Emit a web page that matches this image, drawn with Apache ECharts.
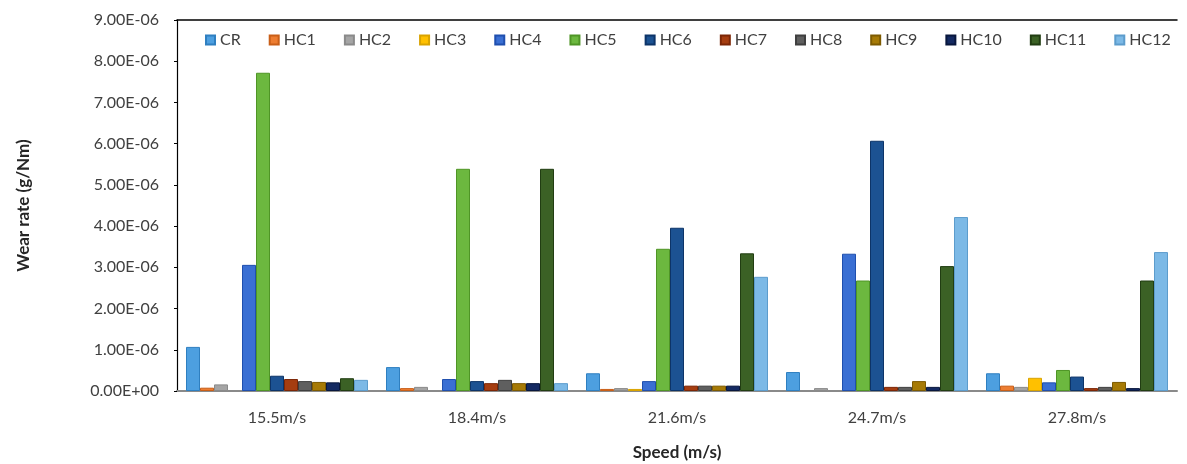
<!DOCTYPE html>
<html>
<head>
<meta charset="utf-8">
<script src="https://cdn.jsdelivr.net/npm/echarts@6/dist/echarts.min.js"></script>
<style>
  html, body { margin: 0; padding: 0; background: #fff; }
  #chart { width: 1187px; height: 464px; }
</style>
</head>
<body>
<div id="chart"></div>
<script>
// Sliding speeds on the category axis
const speeds = ['15.5m/s', '18.4m/s', '21.6m/s', '24.7m/s', '27.8m/s'];

// Wear rate (g/Nm) of each material at each speed
const CR   = [1.07e-6, 0.58e-6, 0.43e-6, 0.46e-6, 0.43e-6];
const HC1  = [0.08e-6, 0.07e-6, 0.05e-6, 0,       0.13e-6];
const HC2  = [0.16e-6, 0.10e-6, 0.07e-6, 0.07e-6, 0.10e-6];
const HC3  = [0,       0,       0.05e-6, 0,       0.32e-6];
const HC4  = [3.06e-6, 0.29e-6, 0.24e-6, 3.33e-6, 0.21e-6];
const HC5  = [7.72e-6, 5.39e-6, 3.45e-6, 2.68e-6, 0.51e-6];
const HC6  = [0.37e-6, 0.24e-6, 3.96e-6, 6.07e-6, 0.35e-6];
const HC7  = [0.29e-6, 0.19e-6, 0.13e-6, 0.10e-6, 0.07e-6];
const HC8  = [0.24e-6, 0.27e-6, 0.13e-6, 0.10e-6, 0.10e-6];
const HC9  = [0.22e-6, 0.19e-6, 0.13e-6, 0.24e-6, 0.22e-6];
const HC10 = [0.21e-6, 0.19e-6, 0.13e-6, 0.10e-6, 0.07e-6];
const HC11 = [0.31e-6, 5.39e-6, 3.34e-6, 3.03e-6, 2.68e-6];
const HC12 = [0.27e-6, 0.19e-6, 2.77e-6, 4.22e-6, 3.37e-6];

const seriesNames = ['CR', 'HC1', 'HC2', 'HC3', 'HC4', 'HC5', 'HC6', 'HC7', 'HC8', 'HC9', 'HC10', 'HC11', 'HC12'];
const seriesData = [CR, HC1, HC2, HC3, HC4, HC5, HC6, HC7, HC8, HC9, HC10, HC11, HC12];

const fills = ['#4d9fe0', '#ed7d31', '#a5a5a5', '#ffc000', '#3a6fd3', '#6cb83f', '#1c5292',
               '#a53d10', '#5f5f5f', '#a67a06', '#142a62', '#3b6125', '#7cb9e6'];
const edges = ['#2f7fc0', '#c95f18', '#8a8a8a', '#d9a300', '#1f4fae', '#4f9526', '#0d3468',
               '#7c2606', '#3f3f3f', '#7d5a00', '#08173d', '#213d12', '#5c9ccc'];

// Y-axis range
const yMin = 0, yMax = 9e-6, yStep = 1e-6;

// Scientific label in the form 9.00E-06
function sci(v) {
  if (v === 0) return '0.00E+00';
  const s = v.toExponential(2).toUpperCase();
  const [m, e] = s.split('E');
  const sign = e[0] === '-' ? '-' : '+';
  const digits = e.replace(/[+-]/, '').padStart(2, '0');
  return m + 'E' + sign + digits;
}

const font = 'Lato, "Open Sans", sans-serif';
const chart = echarts.init(document.getElementById('chart'));

chart.setOption({
  animation: false,
  textStyle: { fontFamily: font },
  legend: {
    top: 27,
    left: 200,
    width: 985,
    itemWidth: 9,
    itemHeight: 9,
    itemGap: 28,
    icon: 'rect',
    textStyle: { fontSize: 16, color: '#404040', fontFamily: font },
    data: seriesNames
  },
  grid: { left: 177, right: 10, top: 20, bottom: 73, containLabel: false, outerBoundsMode: 'none' },
  xAxis: [{
    type: 'category',
    data: speeds,
    name: 'Speed (m/s)',
    nameLocation: 'middle',
    nameGap: 53,
    nameTextStyle: { fontSize: 17, fontWeight: 'bold', color: '#262626', fontFamily: font },
    axisLine: { lineStyle: { color: '#8a8a8a', width: 2 } },
    axisTick: { show: false },
    axisLabel: { fontSize: 16, color: '#404040', margin: 19 }
  }, {
    // plain top border line of the plot area
    type: 'category',
    data: speeds,
    position: 'top',
    axisLine: { lineStyle: { color: '#000', width: 1.5 } },
    axisTick: { show: false },
    axisLabel: { show: false }
  }],
  yAxis: {
    type: 'value',
    min: yMin,
    max: yMax,
    interval: yStep,
    name: 'Wear rate (g/Nm)',
    nameLocation: 'middle',
    nameGap: 145,
    nameTextStyle: { fontSize: 17, fontWeight: 'bold', color: '#262626', fontFamily: font },
    axisLine: { show: true, lineStyle: { color: '#000', width: 1.2 } },
    axisTick: { show: true, length: 3, lineStyle: { color: '#000' } },
    splitLine: { show: false },
    axisLabel: { fontSize: 16, color: '#404040', margin: 18, formatter: sci }
  },
  series: seriesNames.map((name, i) => ({
    name: name,
    type: 'bar',
    // zero-valued bars get no outline so nothing shows on the baseline
    data: seriesData[i].map(v => v === 0 ? { value: 0, itemStyle: { borderWidth: 0 } } : v),
    barGap: '0%',
    barCategoryGap: '9%',
    itemStyle: { color: fills[i], borderColor: edges[i], borderWidth: 1 }
  }))
});
</script>
</body>
</html>
